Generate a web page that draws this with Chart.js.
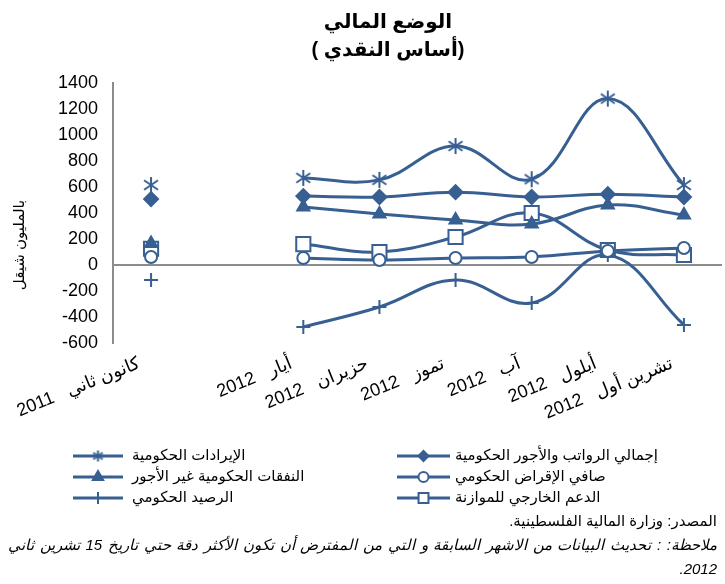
<!DOCTYPE html>
<html>
<head>
<meta charset="utf-8">
<script src="https://cdn.jsdelivr.net/npm/chart.js@4/dist/chart.umd.min.js"></script>
<style>
  body{margin:0;background:#fff;}
  #wrap{position:relative;width:725px;height:584px;overflow:hidden;font-family:"Liberation Sans","DejaVu Sans",Arial,sans-serif;color:#000;}
  #c{position:absolute;left:0;top:0;}
  .title{position:absolute;left:0;width:776px;text-align:center;font-weight:bold;font-size:20px;line-height:28px;}
  .src{position:absolute;right:8px;top:512px;direction:rtl;font-size:15px;}
  .note{position:absolute;left:8px;right:8px;top:536px;direction:rtl;font-size:15px;font-style:italic;text-align:justify;text-align-last:justify;white-space:nowrap;}
  .note2{position:absolute;right:8px;top:560px;direction:rtl;font-size:15px;font-style:italic;}
</style>
</head>
<body>
<div id="wrap">
  <canvas id="c" width="725" height="584"></canvas>
  <div class="title" style="top:7px">الوضع المالي</div>
  <div class="title" style="top:35px">( أساس النقدي)</div>
  <div class="src">المصدر: وزارة المالية الفلسطينية.</div>
  <div class="note">ملاحظة: : تحديث البيانات من الاشهر السابقة و التي من المفترض أن تكون الأكثر  دقة حتي تاريخ 15 تشرين ثاني</div>
  <div class="note2">2012.</div>
</div>
<script>
var months = ['كانون ثاني', '', 'أيار', 'حزيران', 'تموز', 'آب', 'أيلول', 'تشرين أول'];
var years = ['2011', '', '2012', '2012', '2012', '2012', '2012', '2012'];

var revenue = [615, null, 670, 655, 915, 660, 1280, 615];
var salaries = [507, null, 530, 523, 560, 523, 545, 523];
var nonWage = [165, null, 446, 392, 346, 315, 461, 385];
var netLending = [62, null, 54, 38, 54, 62, 108, 131];
var balance = [-115, null, -477, -323, -115, -292, 77, -461];
var support = [125, null, 161, 100, 215, 400, 115, 77];

var seriesNames = [
  'الإيرادات الحكومية',
  'إجمالي الرواتب والأجور الحكومية',
  'النفقات الحكومية غير الأجور',
  'صافي الإقراض الحكومي',
  'الرصيد الحكومي',
  'الدعم الخارجي للموازنة'
];

var yAxisTitle = 'بالمليون شيقل';
var blue = '#375f92';
var fontFam = '"Liberation Sans", "DejaVu Sans", Arial, sans-serif';

// excel style asterisk marker (6 arms)
function makeStar(size){
  var c = document.createElement('canvas');
  c.width = size; c.height = size;
  var g = c.getContext('2d');
  var h = size/2, r = h - 1;
  g.strokeStyle = blue; g.lineWidth = 2;
  g.beginPath();
  g.moveTo(h, h - r); g.lineTo(h, h + r);
  g.moveTo(h - r*0.87, h - r*0.6); g.lineTo(h + r*0.87, h + r*0.6);
  g.moveTo(h - r*0.87, h + r*0.6); g.lineTo(h + r*0.87, h - r*0.6);
  g.stroke();
  return c;
}
var starBig = makeStar(18);
var starSmall = makeStar(13);

var labels = months.map(function(m, i){ return m ? m + '   ' + years[i] : ''; });

function ds(label, data, style, radius, fill){
  return {
    label: label,
    data: data,
    borderColor: blue,
    borderWidth: 3,
    tension: 0.4,
    spanGaps: false,
    pointStyle: style,
    pointRadius: radius,
    pointBorderWidth: 2,
    pointBorderColor: blue,
    pointBackgroundColor: fill
  };
}

var datasets = [
  ds(seriesNames[0], revenue, starBig, 8, blue),
  ds(seriesNames[1], salaries, 'rectRot', 7, blue),
  ds(seriesNames[2], nonWage, 'triangle', 7, blue),
  ds(seriesNames[3], netLending, 'circle', 6, '#fff'),
  ds(seriesNames[4], balance, 'cross', 7, blue),
  ds(seriesNames[5], support, 'rect', 10, '#fff')
];
var legendStyles = [starSmall, 'rectRot', 'triangle', 'circle', 'cross', 'rect'];
var legendRadius = [6, 5, 6, 5, 6, 7];

var extras = {
  id: 'extras',
  afterDraw: function(chart){
    var ctx = chart.ctx;
    // y axis title
    ctx.save();
    ctx.translate(20, 245);
    ctx.rotate(-Math.PI/2);
    ctx.font = '15px ' + fontFam;
    ctx.fillStyle = '#000';
    ctx.textAlign = 'center';
    ctx.textBaseline = 'middle';
    ctx.fillText(yAxisTitle, 0, 0);
    ctx.restore();

    // legend in two columns
    chart.data.datasets.forEach(function(d, i){
      var col = i % 2, row = Math.floor(i/2);
      var x0 = col ? 397 : 73, x1 = col ? 450 : 123;
      var tx = col ? 455 : 132;
      var y = 456 + row*21;
      ctx.save();
      ctx.strokeStyle = blue;
      ctx.lineWidth = 3;
      ctx.beginPath(); ctx.moveTo(x0, y); ctx.lineTo(x1, y); ctx.stroke();
      ctx.lineWidth = 2;
      ctx.fillStyle = d.pointBackgroundColor;
      Chart.helpers.drawPoint(ctx, {pointStyle: legendStyles[i], radius: legendRadius[i], rotation: 0, borderWidth: 2}, (x0 + x1)/2, y);
      ctx.fillStyle = '#000';
      ctx.font = '15px ' + fontFam;
      ctx.textAlign = 'left';
      ctx.textBaseline = 'middle';
      ctx.fillText(d.label, tx, y);
      ctx.restore();
    });
  }
};

var chart = new Chart(document.getElementById('c'), {
  type: 'line',
  data: { labels: labels, datasets: datasets },
  options: {
    responsive: false,
    animation: false,
    layout: { autoPadding: false, padding: { top: 83, right: 3, bottom: 0, left: 0 } },
    plugins: { legend: { display: false }, tooltip: { enabled: false }, title: { display: false } },
    scales: {
      x: {
        offset: true,
        grid: { display: false, drawTicks: false },
        border: { display: false },
        ticks: {
          autoSkip: false,
          minRotation: 22,
          maxRotation: 22,
          padding: 10,
          labelOffset: -12,
          color: '#000',
          font: { size: 18, family: fontFam }
        },
        afterFit: function(scale){
          scale.height = 241;
          scale.paddingLeft = 0;
          scale.paddingRight = 0;
        }
      },
      y: {
        min: -600,
        max: 1400,
        grid: {
          drawTicks: false,
          lineWidth: 2,
          color: function(c){ return c.tick && c.tick.value === 0 ? '#8c8c8c' : 'rgba(0,0,0,0)'; }
        },
        border: { display: true, color: '#8c8c8c', width: 2 },
        ticks: {
          stepSize: 200,
          padding: 15,
          color: '#000',
          font: { size: 18, family: fontFam },
          callback: function(v){ return String(v); }
        },
        afterFit: function(scale){ scale.width = 113; }
      }
    }
  },
  plugins: [extras]
});
</script>
</body>
</html>
